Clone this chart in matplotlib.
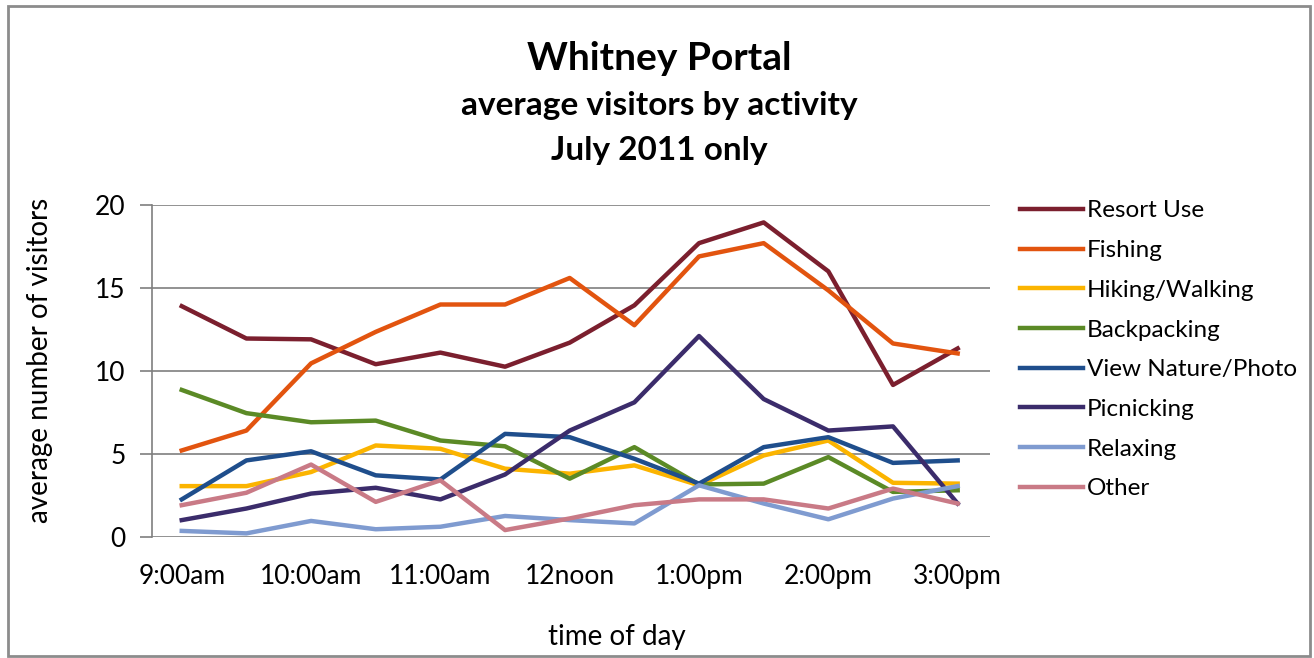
import numpy as np
import matplotlib
matplotlib.use('Agg')
import matplotlib.pyplot as plt
from matplotlib.patches import Rectangle

plt.rcParams['font.family'] = ['Lato', 'DejaVu Sans']

# half-hour steps from 9:00am to 3:00pm
times = ['9:00am', '9:30am', '10:00am', '10:30am', '11:00am', '11:30am', '12noon',
         '12:30pm', '1:00pm', '1:30pm', '2:00pm', '2:30pm', '3:00pm']
tick_labels = ['9:00am', '10:00am', '11:00am', '12noon', '1:00pm', '2:00pm', '3:00pm']

resort = [13.9, 11.95, 11.9, 10.4, 11.1, 10.25, 11.7, 13.95, 17.7, 18.95, 16.0, 9.15, 11.35]
fishing = [5.2, 6.4, 10.45, 12.35, 14.0, 14.0, 15.6, 12.75, 16.9, 17.7, 14.85, 11.65, 11.05]
hiking = [3.05, 3.05, 3.9, 5.5, 5.3, 4.1, 3.8, 4.3, 3.1, 4.9, 5.8, 3.25, 3.2]
backpacking = [8.85, 7.45, 6.9, 7.0, 5.8, 5.45, 3.5, 5.4, 3.15, 3.2, 4.8, 2.7, 2.8]
view_nature = [2.25, 4.6, 5.15, 3.7, 3.45, 6.2, 6.0, 4.7, 3.2, 5.4, 6.0, 4.45, 4.6]
picnicking = [1.0, 1.7, 2.6, 2.95, 2.25, 3.75, 6.4, 8.1, 12.1, 8.3, 6.4, 6.65, 2.0]
relaxing = [0.35, 0.2, 0.95, 0.45, 0.6, 1.25, 1.0, 0.8, 3.1, 2.0, 1.05, 2.3, 3.05]
other = [1.9, 2.65, 4.35, 2.1, 3.4, 0.4, 1.1, 1.9, 2.25, 2.25, 1.7, 2.9, 2.0]

names = ['Resort Use', 'Fishing', 'Hiking/Walking', 'Backpacking',
         'View Nature/Photo', 'Picnicking', 'Relaxing', 'Other']
series = [resort, fishing, hiking, backpacking, view_nature, picnicking, relaxing, other]
colors = ['#7b1f2e', '#e2540f', '#fbb400', '#5b8a26',
          '#1f4e8c', '#3b2c6b', '#7f9bd0', '#c97a86']

fig = plt.figure(figsize=(13.14, 6.58), dpi=100)
ax = fig.add_axes([152/1314, 1-536.7/658, (990-152)/1314, (536.7-205)/658])

x = np.arange(len(times))
for vals, name, c in zip(series, names, colors):
    ax.plot(x, vals, color=c, lw=3.2, label=name, solid_joinstyle='round')

ax.set_xlim(-0.46, 12.5)
ax.set_ylim(0, 20)
ax.set_yticks([0, 5, 10, 15, 20])
ax.set_xticks(x[::2])
ax.set_xticklabels(tick_labels)
ax.grid(axis='y', color='#7f7f7f', lw=1.2)
ax.set_axisbelow(True)
for s in ['top', 'right', 'bottom']:
    ax.spines[s].set_visible(False)
ax.spines['left'].set_color('#7f7f7f')
ax.spines['left'].set_linewidth(1.2)
ax.tick_params(axis='y', length=9, color='#7f7f7f', width=1.2, labelsize=19, pad=10)
ax.tick_params(axis='x', length=0, labelsize=19, pad=20)
ax.set_xlabel('time of day', fontsize=20, va='center')
ax.xaxis.set_label_coords(0.555, -0.302)
ax.set_ylabel('average number of visitors', fontsize=20, va='center')
ax.yaxis.set_label_coords(-0.1337, 0.533)

leg = ax.legend(loc='upper left', bbox_to_anchor=(1.01, 1.08), frameon=False,
                fontsize=17.5, handlelength=2.6, handletextpad=0.15, labelspacing=0.77)

fig.text(0.502, 1-58/658, 'Whitney Portal', ha='center', va='center',
         fontsize=28, fontweight='bold')
fig.text(0.502, 1-105/658, 'average visitors by activity', ha='center', va='center',
         fontsize=24, fontweight='bold')
fig.text(0.502, 1-150/658, 'July 2011 only', ha='center', va='center',
         fontsize=24, fontweight='bold')

fig.patches.append(Rectangle((8/1314, 2/658), 1302/1314, 650/658, transform=fig.transFigure,
                             fill=False, edgecolor='#8c8c8c', lw=2))

plt.savefig('out.png', dpi=100)
